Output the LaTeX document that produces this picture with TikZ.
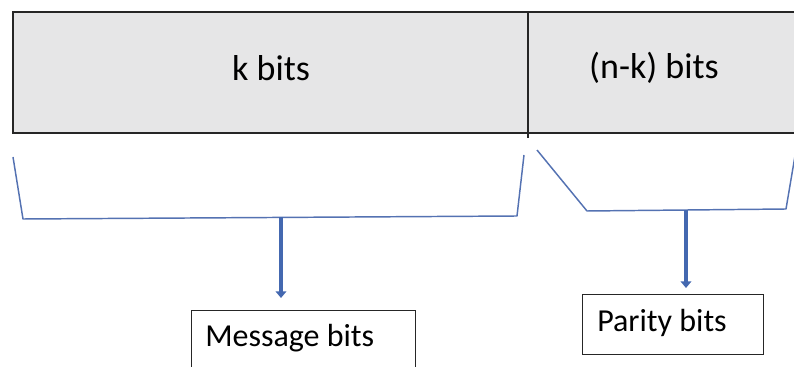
\documentclass[tikz,border=0pt]{standalone}
\usepackage{fontspec}
\setmainfont{Carlito}
\usetikzlibrary{arrows.meta}
\definecolor{boxgray}{RGB}{230,230,231}
\definecolor{brace}{RGB}{84,114,178}
\definecolor{arrowblue}{RGB}{68,104,176}
\tikzset{
  field/.style={font=\fontsize{27}{30}\selectfont, inner sep=0pt, anchor=center},
  labelbox/.style={draw=black!85, line width=0.9pt, fill=white, inner sep=0pt, anchor=north west},
  labeltext/.style={font=\fontsize{24}{28}\selectfont, inner sep=0pt, anchor=west},
  bracket/.style={draw=brace, line width=1.1pt, line join=round},
  pointer/.style={draw=arrowblue, line width=3pt, -{Triangle[length=5pt,width=8pt]}}
}
\begin{document}
\begin{tikzpicture}[x=0.75pt,y=-0.75pt]
\useasboundingbox (0,0) rectangle (794,367);
% top register
\fill[boxgray] (13,12) rectangle (800,133);
\draw[black!85, line width=1pt] (800,12) -- (13,12) -- (13,133) -- (800,133);
\draw[black!85, line width=0.9pt] (528,12) -- (528,138);
\node[field] (kbits) at (271,68) {k bits};
\node[field] (nkbits) at (654,68) {(n-k) bits};
% brackets
\coordinate (lb) at (281,217);
\coordinate (rb) at (686,210);
\draw[bracket] (13,157) -- (23,219) -- (517,216) -- (524,155);
\draw[bracket] (537,150) -- (587,211) -- (786,209) -- (796,150);
% label boxes
\node[labelbox, minimum width=168pt, minimum height=52.5pt] (msgbox) at (191,310) {};
\node[labeltext] (msg) at (205,338) {Message bits};
\node[labelbox, minimum width=135.75pt, minimum height=45pt] (parbox) at (582,294) {};
\node[labeltext] (par) at (597,323) {Parity bits};
% arrows
\draw[pointer, shorten >=9pt] (lb) -- (lb |- msgbox.north);
\draw[pointer, shorten >=4.5pt] (rb) -- (rb |- parbox.north);
\end{tikzpicture}
\end{document}
